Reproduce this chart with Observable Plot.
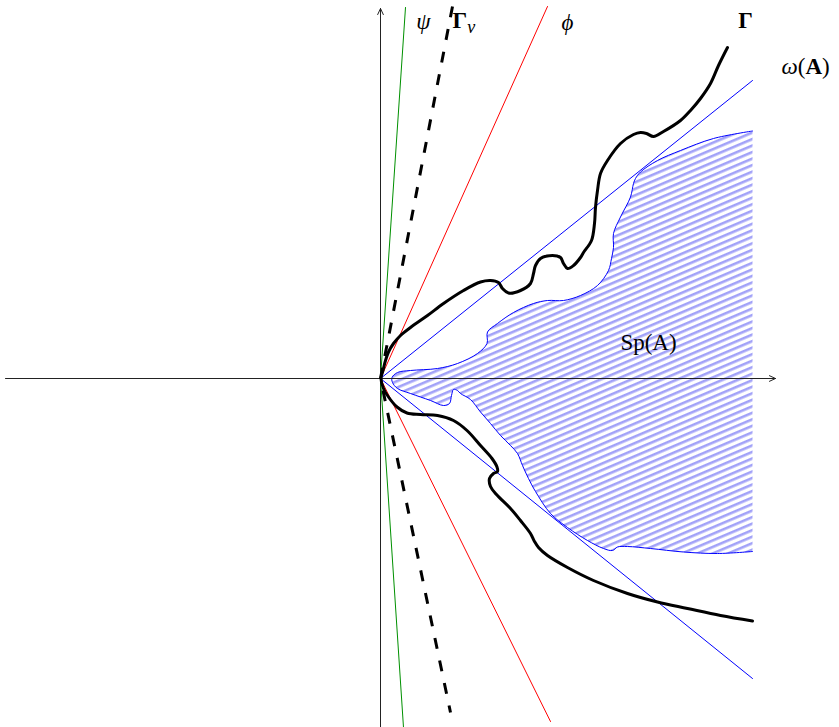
<!DOCTYPE html>
<html>
<head>
<meta charset="utf-8">
<script src="https://cdn.jsdelivr.net/npm/d3@7"></script>
<script src="https://cdn.jsdelivr.net/npm/@observablehq/plot@0.6"></script>
<style>
  html, body { margin: 0; padding: 0; background: #fff; }
  #chart svg { display: block; }
</style>
</head>
<body>
<div id="chart"></div>
<script>
// Coordinates: abstract plane units, origin at the vertex of the cones.
const gammaX = [347,338,330,320,310,300,283,273,266,260,253,240,227,220,217,215,214,211,203,200,193,187,183,180,172,160,155,153,150,140,128,122,118,110,100,83,63,47,30,20,13,8,5,2.5,0.5,3,8,16.5,26.5,40,57,73,86.5,100,111.5,116.5,117,113,109,110,116,130,140,150,154,158,167,187,213,247,277,307,340,372];
const gammaY = [331,313,295,280,268,258,247,242,245,246,244,235,218,205,188,171,155,138,126,121,113,110,115,121,123,120,113,105,95,88,85.5,90,96,98,96.5,88,75,63,51,43,35,26.5,18,8,0,-10,-18.5,-28.5,-34.5,-36,-37,-42,-52,-67,-80,-88.5,-93,-95,-100,-108,-116,-130,-142,-155,-163,-169,-177,-189,-202,-215,-223.5,-230,-237,-242.5];

const spX = [372,333,300,277,260,255,253,250,240,233,233,231,228,217,200,183,167,153,133,117,107,106.5,97,77,57,30,17,11.5,12,17,30,50,63,69,71,73,77,80,90,100,110,120,130,137,142,148,155,170,187,207,223,232,237,247,270,303,337,372];
const spY = [247.5,240,228,218,206.5,200,195,181.5,161.5,145,131,120,108,93,83,78,78,75,66,55,46.5,35,25,15,10,8,6,1,-4,-10,-15,-22,-27,-25,-17,-11,-12,-15,-21,-33.5,-45,-57,-67,-75,-87,-100,-113,-135,-149,-162,-170,-172,-168.5,-168,-170,-173.5,-175,-173];

// Rays from the origin (upper end, origin, lower end)
const psiX = [25, 0, 23],     psiY = [371, 0, -349];
const gnuX = [72, 0, 70],     gnuY = [372, 0, -334];
const phiX = [167, 0, 170],   phiY = [372, 0, -343];
const omegaX = [372, 0, 372], omegaY = [298, 0, -300];

// Axes
const axisX1 = [-375, 0], axisY1 = [0, -349], axisX2 = [395, 0], axisY2 = [0, 370];

// Labels
const labelText = ["ψ", "Γν", "ϕ", "Γ", "ω(A)", "Sp(A)"];
const labelX = [43, 72, 187, 365, 401, 268];
const labelY = [357, 358, 356, 358, 312, 36];

const pts = (xs, ys) => xs.map((x, i) => ({x, y: ys[i]}));
const gamma = pts(gammaX, gammaY);
const sp = pts(spX, spY);
const axes = axisX1.map((x1, i) => ({x1, y1: axisY1[i], x2: axisX2[i], y2: axisY2[i]}));
const labels = labelText.map((t, i) => ({t, x: labelX[i], y: labelY[i]}));

const serif = "'Liberation Serif', 'DejaVu Serif', serif";

const svg = Plot.plot({
  width: 839,
  height: 727,
  margin: 0,
  x: {domain: [-380, 459], axis: null},
  y: {domain: [-349, 378], axis: null},
  style: {background: "white", fontFamily: serif},
  marks: [
    Plot.line(sp, {x: "x", y: "y", curve: "catmull-rom", fill: "url(#hatch)", stroke: "none"}),
    Plot.line(sp, {x: "x", y: "y", curve: "catmull-rom", stroke: "#0000ff", strokeWidth: 1}),
    Plot.arrow(axes, {x1: "x1", y1: "y1", x2: "x2", y2: "y2", stroke: "#222", strokeWidth: 1, headLength: 10, headAngle: 50}),
    Plot.line(pts(psiX, psiY), {x: "x", y: "y", stroke: "#009000", strokeWidth: 1}),
    Plot.line(pts(phiX, phiY), {x: "x", y: "y", stroke: "#ff0000", strokeWidth: 1}),
    Plot.line(pts(omegaX, omegaY), {x: "x", y: "y", stroke: "#0000ff", strokeWidth: 1}),
    Plot.line(pts(gnuX, gnuY), {x: "x", y: "y", stroke: "#000", strokeWidth: 3, strokeDasharray: "11,12", strokeLinecap: "butt"}),
    Plot.line(gamma, {x: "x", y: "y", curve: "catmull-rom", stroke: "#000", strokeWidth: 3}),
    Plot.text(labels, {x: "x", y: "y", text: "t", fontSize: 23, fill: "#000", textAnchor: "middle"})
  ]
});

// hatch pattern definition
const s = d3.select(svg);
const defs = s.insert("defs", ":first-child");
const pat = defs.append("pattern")
  .attr("id", "hatch")
  .attr("patternUnits", "userSpaceOnUse")
  .attr("width", 12)
  .attr("height", 6)
  .attr("patternTransform", "rotate(-23)");
pat.append("rect").attr("x", 0).attr("y", 0).attr("width", 12).attr("height", 6).attr("fill", "white");
pat.append("rect").attr("x", 0).attr("y", 0).attr("width", 12).attr("height", 2.6).attr("fill", "#a2a2f8");

// rich text for labels
s.selectAll("text").each(function() {
  const el = d3.select(this);
  const t = this.textContent;
  if (t === "ψ" || t === "ϕ") {
    el.attr("font-style", "italic");
  } else if (t === "Γ") {
    el.attr("font-weight", "bold");
  } else if (t === "Γν") {
    el.text(null).attr("text-anchor", "start");
    el.append("tspan").attr("font-weight", "bold").text("Γ");
    el.append("tspan").attr("font-style", "italic").attr("font-size", 18).attr("dy", 5).text("ν");
  } else if (t === "ω(A)") {
    el.text(null).attr("text-anchor", "start");
    el.append("tspan").attr("font-style", "italic").text("ω");
    el.append("tspan").text("(");
    el.append("tspan").attr("font-weight", "bold").text("A");
    el.append("tspan").text(")");
  }
});

document.getElementById("chart").appendChild(svg);
</script>
</body>
</html>
